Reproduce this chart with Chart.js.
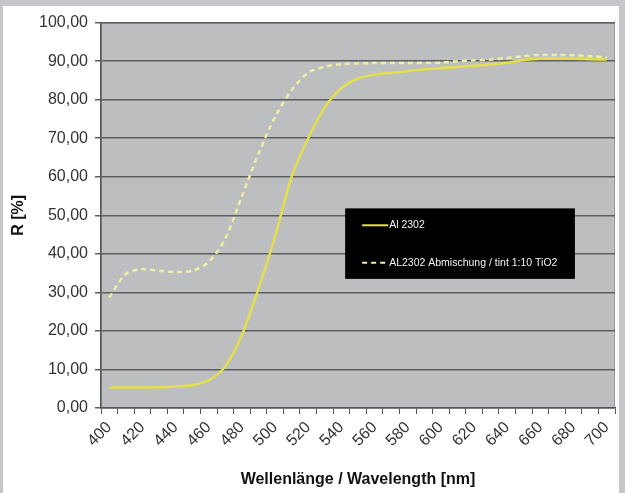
<!DOCTYPE html>
<html lang="de">
<head>
    <meta charset="UTF-8" />
    <title>Reflexion Al 2302</title>
    <script src="https://cdn.jsdelivr.net/npm/chart.js"></script>
    <style>
        body { margin: 0; background: #c6c7c9; }
        .frame { position: absolute; left: 3px; top: 6px; width: 616px; height: 487px; background: #fff; }
    </style>
</head>
<body>
    <div class="frame">
        <canvas id="reflChart" width="616" height="487"></canvas>
    </div>
    <script>
    // Wellenlaenge in nm
    const wavelengths = [400, 410, 420, 430, 440, 450, 460, 470, 480, 490, 500, 510, 520, 530, 540, 550,
        560, 570, 580, 590, 600, 610, 620, 630, 640, 650, 660, 670, 680, 690, 700];
    // R [%] - Al 2302
    const al2302 = [5.3, 5.3, 5.3, 5.4, 5.6, 5.9, 7.2, 10.8, 19, 31, 44.5, 60, 70, 78, 83, 85.5,
        86.5, 87, 87.4, 87.9, 88.2, 88.5, 88.8, 89.1, 89.6, 90.3, 90.6, 90.6, 90.6, 90.5, 90.4];
    // R [%] - Abmischung / tint 1:10 TiO2
    const al2302Tint = [28.7, 34.8, 36, 35.6, 35.3, 35.6, 37.9, 44, 55, 66, 75.5, 82.5, 87, 88.6, 89.2, 89.4,
        89.5, 89.5, 89.5, 89.5, 89.6, 90, 90.2, 90.4, 90.8, 91.3, 91.6, 91.6, 91.5, 91.3, 91.0];
    const seriesNames = ['Al 2302', 'AL2302 Abmischung / tint 1:10 TiO2'];

    const solidColor = '#e4e04a';
    const dashColor = '#efeea6';

    // grey plot background
    const plotBg = {
        id: 'plotBg',
        beforeDraw(chart) {
            const a = chart.chartArea, ctx = chart.ctx;
            ctx.save();
            ctx.fillStyle = '#bdbec0';
            ctx.fillRect(a.left, a.top, a.right - a.left, a.bottom - a.top);
            ctx.strokeStyle = '#9a9a9a';
            ctx.lineWidth = 1;
            ctx.strokeRect(a.left + 0.5, a.top + 0.5, a.right - a.left - 1, a.bottom - a.top - 1);
            ctx.restore();
        }
    };

    // black legend box inside the plot
    const boxLegend = {
        id: 'boxLegend',
        afterDraw(chart) {
            const a = chart.chartArea, ctx = chart.ctx;
            const w = a.right - a.left, h = a.bottom - a.top;
            const x0 = a.left + w * 0.475, x1 = a.left + w * 0.922;
            const y0 = a.top + h * 0.482, y1 = a.top + h * 0.665;
            ctx.save();
            ctx.fillStyle = '#000';
            ctx.fillRect(x0, y0, x1 - x0, y1 - y0);
            ctx.font = '10.5px "Liberation Sans", Arial, sans-serif';
            ctx.textBaseline = 'middle';
            chart.data.datasets.forEach((ds, i) => {
                const y = y0 + (y1 - y0) * (i === 0 ? 0.24 : 0.77);
                ctx.strokeStyle = ds.borderColor;
                ctx.lineWidth = 2;
                ctx.setLineDash(ds.borderDash || []);
                ctx.beginPath();
                ctx.moveTo(x0 + 17, y);
                ctx.lineTo(x0 + 43, y);
                ctx.stroke();
                ctx.fillStyle = '#f2f2f2';
                ctx.fillText(ds.label, x0 + 44, y);
            });
            ctx.restore();
        }
    };

    const ctx = document.getElementById('reflChart').getContext('2d');
    new Chart(ctx, {
        type: 'line',
        data: {
            labels: wavelengths,
            datasets: [{
                label: seriesNames[0],
                data: al2302,
                borderColor: solidColor,
                borderWidth: 2.5,
                pointRadius: 0,
                tension: 0.3,
                fill: false
            }, {
                label: seriesNames[1],
                data: al2302Tint,
                borderColor: dashColor,
                borderWidth: 2.5,
                borderDash: [5, 4],
                pointRadius: 0,
                tension: 0.3,
                fill: false
            }]
        },
        options: {
            responsive: false,
            animation: false,
            layout: { padding: { top: 14, right: 4, left: 0, bottom: 0 } },
            plugins: {
                legend: { display: false },
                tooltip: { enabled: false }
            },
            scales: {
                x: {
                    offset: true,
                    grid: { drawOnChartArea: false, offset: true, tickLength: 6, color: '#555', lineWidth: 1 },
                    border: { color: '#555', width: 1.5 },
                    ticks: {
                        autoSkip: false,
                        maxRotation: 45,
                        minRotation: 45,
                        padding: 4,
                        color: '#333',
                        font: { family: '"Liberation Sans", Arial, sans-serif', size: 16 },
                        callback: function (v, i) { return i % 2 === 0 ? this.getLabelForValue(v) : ''; }
                    },
                    title: {
                        display: true,
                        text: 'Wellenlänge / Wavelength [nm]',
                        color: '#111',
                        padding: { top: 6, bottom: 4 },
                        font: { family: '"Liberation Sans", Arial, sans-serif', size: 16, weight: 'bold' }
                    },
                    afterFit: (s) => { s.height = 85; s.paddingRight = 0; s.paddingLeft = 0; }
                },
                y: {
                    min: 0,
                    max: 100,
                    grid: { color: '#5e5e5e', lineWidth: 1.5, tickLength: 6 },
                    border: { color: '#555', width: 1.5 },
                    ticks: {
                        stepSize: 10,
                        padding: 7,
                        color: '#333',
                        font: { family: '"Liberation Sans", Arial, sans-serif', size: 16 },
                        callback: (v) => v.toFixed(2).replace('.', ',')
                    },
                    title: {
                        display: true,
                        text: 'R [%]',
                        color: '#111',
                        padding: { top: 6, bottom: 0 },
                        font: { family: '"Liberation Sans", Arial, sans-serif', size: 16, weight: 'bold' }
                    },
                    afterFit: (s) => { s.width = 98; }
                }
            }
        },
        plugins: [plotBg, boxLegend]
    });
    </script>
</body>
</html>
